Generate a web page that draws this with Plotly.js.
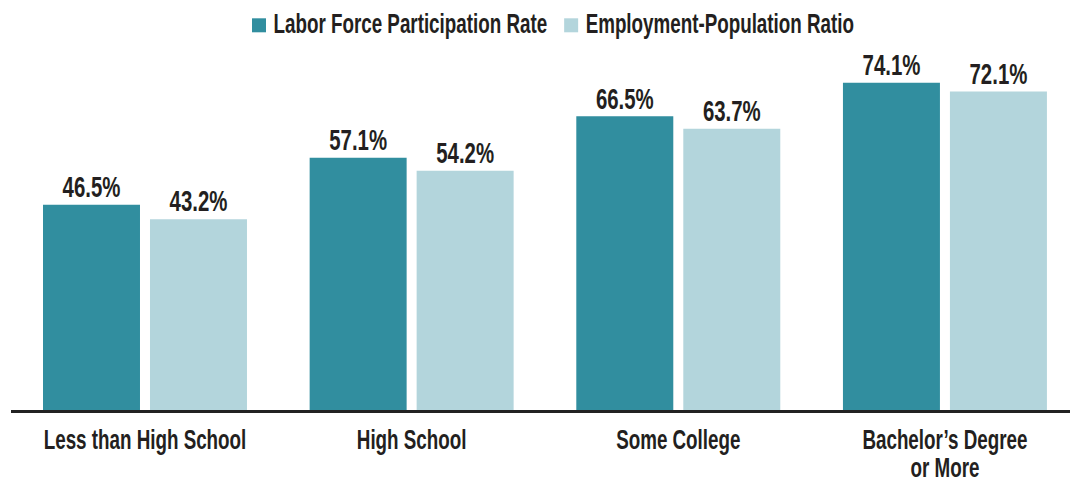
<!DOCTYPE html>
<html>
<head>
<meta charset="utf-8">
<script src="https://cdn.plot.ly/plotly-3.0.1.min.js"></script>
<style>html,body{margin:0;padding:0;background:#fff;}#chart{width:1070px;height:478px;}</style>
</head>
<body>
<div id="chart"></div>
<script>
const categories = ["Less than High School", "High School", "Some College", "Bachelor’s Degree<br>or More"];
const seriesNames = ["Labor Force Participation Rate", "Employment-Population Ratio"];
const laborForce = [46.5, 57.1, 66.5, 74.1];
const employmentPop = [43.2, 54.2, 63.7, 72.1];
const seriesColors = ["#318e9f", "#b3d5dc"];

const FONT = '"Liberation Sans", Arial, sans-serif';
const TEXT = '#231f20';
const FS_LABEL = 28.5;   // tick labels and legend
const FS_VAL = 30;       // bar value labels
const SX_LABEL = 0.66;   // horizontal condensing of text (reference uses a condensed face)
const SX_VAL = 0.68;
const ASC = 0.905;       // Liberation Sans ascent (em)

function series(name, values, color) {
  return {
    type: 'bar',
    name: name,
    x: categories,
    y: values,
    marker: {color: color, line: {width: 0}},
    texttemplate: '%{y:.1f}%',
    textposition: 'outside',
    constraintext: 'none',
    textfont: {family: FONT, size: FS_VAL, color: TEXT, weight: 'bold'},
    cliponaxis: false,
    hoverinfo: 'skip'
  };
}

const data = [
  series(seriesNames[0], laborForce, seriesColors[0]),
  series(seriesNames[1], employmentPop, seriesColors[1])
];

const layout = {
  width: 1070,
  height: 478,
  margin: {l: 11, r: 0, t: 40, b: 68, autoexpand: false},
  paper_bgcolor: '#ffffff',
  plot_bgcolor: '#ffffff',
  font: {family: FONT, color: TEXT, size: FS_LABEL, weight: 'bold'},
  barmode: 'group',
  bargap: 0.1975,
  bargroupgap: 0.0935,
  showlegend: true,
  legend: {
    orientation: 'h',
    x: 0.515, xanchor: 'center',
    y: 1.043, yanchor: 'middle',
    bgcolor: 'rgba(0,0,0,0)',
    borderwidth: 0,
    font: {family: FONT, size: FS_LABEL, color: TEXT, weight: 'bold'},
    itemwidth: 30,
    traceorder: 'normal'
  },
  xaxis: {
    type: 'category',
    range: [-0.5025, 3.469],
    showline: true,
    linecolor: '#222222',
    linewidth: 3,
    ticks: '',
    tickangle: 0,
    showgrid: false,
    zeroline: false,
    automargin: false,
    tickfont: {family: FONT, size: FS_LABEL, color: TEXT, weight: 'bold'}
  },
  yaxis: {
    range: [0, 83.79],
    visible: false,
    showgrid: false,
    zeroline: false,
    fixedrange: true
  }
};

/* ---- text styling helpers: condense real SVG text horizontally ---- */
const SVGNS = 'http://www.w3.org/2000/svg';
function wrap(el) {
  const g = document.createElementNS(SVGNS, 'g');
  el.parentNode.insertBefore(g, el);
  g.appendChild(el);
  return g;
}
function condense(el, sx, anchor) {
  const g = wrap(el);
  const bb = g.getBBox();
  const ax = anchor === 'start' ? bb.x : bb.x + bb.width / 2;
  g.setAttribute('transform', `translate(${ax},0) scale(${sx},1) translate(${-ax},0)`);
  return g;
}
function shift(g, dx, dy) {
  g.setAttribute('transform', `translate(${dx},${dy}) ` + (g.getAttribute('transform') || ''));
}

const LEG = {cx: 553, sym: 14, symCY: 25.3, symGap: 7.5, itemGap: 17, baseline: 33.3};
const TICK = {baseline: 449.3, lineEm: 0.97};
const VAL_GAP = 7.5;

function restyleText(gd) {
  // tick labels
  gd.querySelectorAll('.xtick text').forEach(t => {
    t.querySelectorAll('tspan.line').forEach((ts, i) => { if (i > 0) ts.setAttribute('dy', TICK.lineEm + 'em'); });
    const g = condense(t, SX_LABEL, 'middle');
    const r = g.getBoundingClientRect();
    shift(g, 0, TICK.baseline - (r.top + ASC * FS_LABEL));
  });
  // bar value labels
  gd.querySelectorAll('.point').forEach(pt => {
    const path = pt.querySelector('path');
    const txt = pt.querySelector('text.bartext');
    if (!path || !txt) return;
    const g = condense(txt, SX_VAL, 'middle');
    const top = path.getBoundingClientRect().top;
    const r = g.getBoundingClientRect();
    shift(g, 0, (top - VAL_GAP) - (r.top + ASC * FS_VAL));
  });
  // legend
  const sb = gd.querySelector('.legend .scrollbox');
  if (sb) sb.removeAttribute('clip-path');
  const items = Array.from(gd.querySelectorAll('.legend .traces')).map(tr => ({
    txt: condense(tr.querySelector('.legendtext'), SX_LABEL, 'start'),
    sym: wrap(tr.querySelector('.legendpoints'))
  }));
  const widths = items.map(it => it.txt.getBoundingClientRect().width);
  const total = items.length * (LEG.sym + LEG.symGap) + widths.reduce((a, b) => a + b, 0) + (items.length - 1) * LEG.itemGap;
  let cursor = LEG.cx - total / 2;
  items.forEach((it, i) => {
    const sr = it.sym.getBoundingClientRect();
    const sbb = it.sym.getBBox();
    const k = LEG.sym / sr.width;
    const scx = sbb.x + sbb.width / 2, scy = sbb.y + sbb.height / 2;
    const dxs = (cursor + LEG.sym / 2) - (sr.left + sr.width / 2);
    const dys = LEG.symCY - (sr.top + sr.height / 2);
    it.sym.setAttribute('transform', `translate(${dxs},${dys}) translate(${scx},${scy}) scale(${k}) translate(${-scx},${-scy})`);
    const tr = it.txt.getBoundingClientRect();
    const tx = cursor + LEG.sym + LEG.symGap;
    shift(it.txt, tx - tr.left, LEG.baseline - (tr.top + ASC * FS_LABEL));
    cursor = tx + widths[i] + LEG.itemGap;
  });
}

Plotly.newPlot('chart', data, layout, {displayModeBar: false, staticPlot: true})
  .then(gd => restyleText(gd));
</script>
</body>
</html>
